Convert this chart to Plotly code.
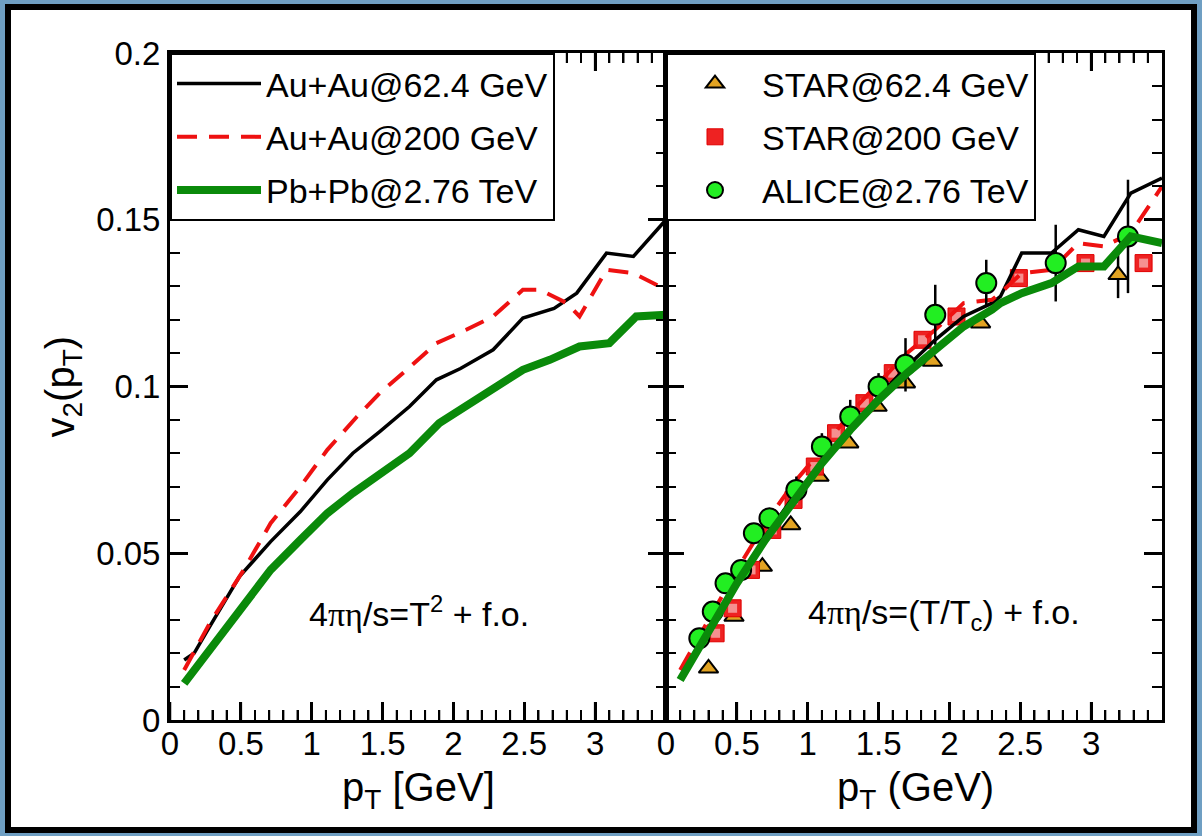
import plotly.graph_objects as go
from plotly.subplots import make_subplots

# ---------------- data ----------------
# left panel: 4*pi*eta/s = T^2 + f.o.
pt_l = [0.1, 0.17, 0.28, 0.49, 0.71, 0.92, 1.11, 1.29, 1.48, 1.69, 1.88, 2.05, 2.28, 2.49, 2.71, 2.87, 3.08, 3.27, 3.5]
auau62_l = [0.018, 0.020, 0.028, 0.043, 0.0535, 0.0625, 0.072, 0.080, 0.0865, 0.094, 0.102, 0.1054, 0.111, 0.1205, 0.1234, 0.128, 0.140, 0.139, 0.150]

pt_l_red = [0.1, 0.28, 0.52, 0.71, 0.92, 1.11, 1.32, 1.48, 1.67, 1.88, 2.09, 2.28, 2.49, 2.61, 2.80, 2.89, 3.08, 3.27, 3.5]
auau200_l = [0.015, 0.029, 0.045, 0.059, 0.070, 0.081, 0.091, 0.098, 0.105, 0.113, 0.117, 0.121, 0.129, 0.129, 0.125, 0.121, 0.135, 0.134, 0.129]

pt_l_grn = [0.1, 0.28, 0.49, 0.71, 0.92, 1.11, 1.29, 1.48, 1.69, 1.9, 2.09, 2.28, 2.49, 2.68, 2.89, 3.1, 3.29, 3.5]
pbpb_l = [0.011, 0.021, 0.033, 0.045, 0.054, 0.062, 0.068, 0.074, 0.080, 0.089, 0.094, 0.099, 0.105, 0.108, 0.112, 0.113, 0.121, 0.1215]

# right panel: 4*pi*eta/s = (T/Tc) + f.o.
pt_r = [0.1, 0.3, 0.5, 0.7, 0.9, 1.1, 1.3, 1.5, 1.7, 1.9, 2.1, 2.3, 2.36, 2.51, 2.72, 2.91, 3.09, 3.28, 3.5]
auau62_r = [0.013, 0.027, 0.041, 0.055, 0.067, 0.077, 0.087, 0.097, 0.106, 0.114, 0.121, 0.125, 0.127, 0.140, 0.140, 0.147, 0.145, 0.158, 0.1625]
auau200_r = [0.015, 0.030, 0.045, 0.059, 0.071, 0.081, 0.092, 0.101, 0.110, 0.117, 0.125, 0.126, 0.128, 0.134, 0.135, 0.143, 0.142, 0.146, 0.160]
pbpb_r = [0.012, 0.027, 0.041, 0.054, 0.066, 0.077, 0.087, 0.096, 0.104, 0.111, 0.118, 0.123, 0.125, 0.128, 0.131, 0.136, 0.136, 0.145, 0.143]

# data points
star62_pt = [0.3, 0.48, 0.68, 0.88, 1.08, 1.29, 1.49, 1.69, 1.88, 2.22, 3.19]
star62_v2 = [0.0155, 0.031, 0.046, 0.0585, 0.073, 0.083, 0.094, 0.101, 0.1075, 0.119, 0.1335]
star62_err = [0.0, 0.0, 0.0, 0.0, 0.0, 0.0, 0.0, 0.0, 0.0, 0.0, 0.007]

star200_pt = [0.35, 0.47, 0.6, 0.75, 0.9, 1.05, 1.2, 1.4, 1.6, 1.81, 2.05, 2.49, 2.96, 3.37]
star200_v2 = [0.026, 0.0335, 0.045, 0.057, 0.066, 0.076, 0.086, 0.095, 0.104, 0.114, 0.121, 0.1325, 0.137, 0.137]

alice_pt = [0.235, 0.33, 0.42, 0.53, 0.62, 0.73, 0.92, 1.1, 1.3, 1.5, 1.69, 1.9, 2.26, 2.75, 3.26]
alice_v2 = [0.0245, 0.0325, 0.041, 0.045, 0.056, 0.0605, 0.069, 0.082, 0.091, 0.100, 0.1065, 0.1215, 0.131, 0.137, 0.145]
alice_err = [0.001, 0.001, 0.0015, 0.0015, 0.002, 0.002, 0.004, 0.004, 0.005, 0.004, 0.008, 0.009, 0.007, 0.0115, 0.017]

x_ticks = [0, 0.5, 1, 1.5, 2, 2.5, 3]
x_labels = ["0", "0.5", "1", "1.5", "2", "2.5", "3"]
x_minor = [0.1, 0.2, 0.3, 0.4, 0.6, 0.7, 0.8, 0.9, 1.1, 1.2, 1.3, 1.4, 1.6, 1.7, 1.8, 1.9,
           2.1, 2.2, 2.3, 2.4, 2.6, 2.7, 2.8, 2.9, 3.1, 3.2, 3.3, 3.4]
y_ticks = [0, 0.05, 0.1, 0.15, 0.2]
y_labels = ["0", "0.05", "0.1", "0.15", "0.2"]

# ---------------- style ----------------
FONT = "Liberation Sans, Arial, Helvetica, sans-serif"
BLACK = "#000000"
RED = "#ee1111"
GREEN = "#0a8a0a"
ORANGE = "#e2a322"
LGREEN = "#22ee22"
FRAME_BLUE = "#6f9fc3"

W, H = 1202, 836
L, R, T, B = 170, 40, 53, 116
PLOT_H = H - T - B
MAJOR_LEN, MINOR_LEN = 18, 10

def px2x(px):
    return (px - L) / (W - L - R)

def py2y(py):
    return (H - B - py) / PLOT_H

fig = make_subplots(rows=1, cols=2, shared_yaxes=True, horizontal_spacing=0)

# experimental points (right panel)
fig.add_trace(go.Scatter(x=star62_pt, y=star62_v2, mode="markers", name="STAR@62.4 GeV",
                         error_y=dict(type="data", array=star62_err, color=BLACK, thickness=2.5, width=0),
                         marker=dict(symbol="triangle-up", size=17, color=ORANGE, line=dict(color=BLACK, width=2)),
                         legend="legend2", legendgroup="s62"), row=1, col=2)
fig.add_trace(go.Scatter(x=star200_pt, y=star200_v2, mode="markers", name="STAR@200 GeV",
                         marker=dict(symbol="square", size=17, color="#ee2222", line=dict(color="#e00000", width=1)),
                         legend="legend2", legendgroup="s200"), row=1, col=2)
fig.add_trace(go.Scatter(x=star200_pt, y=star200_v2, mode="markers", showlegend=False, hoverinfo="skip",
                         marker=dict(symbol="square", size=9, color="#f59090", line=dict(width=0)),
                         legend="legend2", legendgroup="s200"), row=1, col=2)

# hydro curves
for col, xs, ys in [(1, pt_l, auau62_l), (2, pt_r, auau62_r)]:
    fig.add_trace(go.Scatter(x=xs, y=ys, mode="lines", name="Au+Au@62.4 GeV",
                             line=dict(color=BLACK, width=3.5), legendgroup="a62",
                             showlegend=(col == 1), legend="legend"), row=1, col=col)
for col, xs, ys in [(1, pt_l_red, auau200_l), (2, pt_r, auau200_r)]:
    fig.add_trace(go.Scatter(x=xs, y=ys, mode="lines", name="Au+Au@200 GeV",
                             line=dict(color=RED, width=4, dash="20px,12px"), legendgroup="a200",
                             showlegend=(col == 1), legend="legend"), row=1, col=col)

fig.add_trace(go.Scatter(x=alice_pt, y=alice_v2, mode="markers", name="ALICE@2.76 TeV",
                         error_y=dict(type="data", array=alice_err, color=BLACK, thickness=2.5, width=0),
                         marker=dict(symbol="circle", size=20, color=LGREEN, line=dict(color=BLACK, width=2)),
                         legend="legend2", legendgroup="alice"), row=1, col=2)

for col, xs, ys in [(1, pt_l_grn, pbpb_l), (2, pt_r, pbpb_r)]:
    fig.add_trace(go.Scatter(x=xs, y=ys, mode="lines", name="Pb+Pb@2.76 TeV",
                             line=dict(color=GREEN, width=8), legendgroup="pb",
                             showlegend=(col == 1), legend="legend"), row=1, col=col)

# axes: inside ticks on all four sides, minor ticks in between
fig.update_xaxes(range=[0, 3.5], tickvals=x_ticks, ticktext=x_labels,
                 showline=True, linecolor=BLACK, linewidth=3, mirror="allticks",
                 ticks="inside", ticklen=MAJOR_LEN, tickwidth=2.5, tickcolor=BLACK,
                 minor=dict(tickvals=x_minor, ticks="inside", ticklen=MINOR_LEN, tickwidth=2, tickcolor=BLACK),
                 showgrid=False, zeroline=False, ticklabelstandoff=-8,
                 tickfont=dict(family=FONT, size=33, color=BLACK))
fig.update_yaxes(range=[0, 0.2], tickvals=y_ticks, ticktext=y_labels,
                 showline=True, linecolor=BLACK, linewidth=3, mirror="allticks",
                 ticks="inside", ticklen=MAJOR_LEN, tickwidth=2.5, tickcolor=BLACK,
                 minor=dict(dtick=0.01, tick0=0, ticks="inside", ticklen=MINOR_LEN, tickwidth=2, tickcolor=BLACK),
                 showgrid=False, zeroline=False, ticklabelstandoff=0,
                 tickfont=dict(family=FONT, size=33, color=BLACK))
fig.update_yaxes(showticklabels=False, row=1, col=2)

# x tick marks on bottom and top edges, placed on each panel's own x scale
# (the axis ticks alone did not come through in the render)
tick_marks = []
for xref, yref in [("x", "y domain"), ("x2", "y2 domain")]:
    for positions, length, width in [(x_ticks, MAJOR_LEN, 2.5), (x_minor, MINOR_LEN, 2)]:
        frac = length / PLOT_H
        for v in positions:
            for y0, y1 in [(0, frac), (1, 1 - frac)]:
                tick_marks.append(dict(type="line", xref=xref, yref=yref, layer="above",
                                       x0=v, x1=v, y0=y0, y1=y1,
                                       line=dict(color=BLACK, width=width)))

legend_common = dict(bgcolor="white", bordercolor=BLACK, borderwidth=2,
                     font=dict(family=FONT, size=34, color=BLACK),
                     tracegroupgap=6, itemwidth=84, yanchor="top", xanchor="left", y=1)

# slide frame: thin blue edge + black border, drawn as unfilled outlines
frame = [
    dict(type="rect", xref="paper", yref="paper", layer="above",
         x0=px2x(0), x1=px2x(W), y0=py2y(H), y1=py2y(0),
         fillcolor="rgba(0,0,0,0)", line=dict(color=FRAME_BLUE, width=10)),
    dict(type="rect", xref="paper", yref="paper", layer="above",
         x0=px2x(8), x1=px2x(1194), y0=py2y(830), y1=py2y(7),
         fillcolor="rgba(0,0,0,0)", line=dict(color=BLACK, width=6)),
]

fig.update_layout(
    width=W, height=H,
    margin=dict(l=L, r=R, t=T, b=B),
    paper_bgcolor="white",
    plot_bgcolor="white",
    font=dict(family=FONT, color=BLACK),
    legend=dict(x=0, **legend_common),
    legend2=dict(x=0.5, **legend_common),
    shapes=tick_marks + frame,
    annotations=[
        dict(xref="paper", yref="paper", x=px2x(62), y=0.5, textangle=-90,
             xanchor="center", yanchor="middle",
             text="v<sub>2</sub>(p<sub>T</sub>)", showarrow=False,
             font=dict(family=FONT, size=40, color=BLACK)),
        dict(xref="paper", yref="paper", x=px2x(418), y=py2y(790),
             xanchor="center", yanchor="middle",
             text="p<sub>T</sub> [GeV]", showarrow=False,
             font=dict(family=FONT, size=40, color=BLACK)),
        dict(xref="paper", yref="paper", x=px2x(915), y=py2y(790),
             xanchor="center", yanchor="middle",
             text="p<sub>T</sub> (GeV)", showarrow=False,
             font=dict(family=FONT, size=40, color=BLACK)),
        dict(xref="x", yref="y", x=1.76, y=0.0325, showarrow=False,
             xanchor="center", yanchor="middle",
             text="4<span style='font-family:Liberation Serif'>πη</span>/s=T<sup>2</sup> + f.o.",
             font=dict(family=FONT, size=34, color=BLACK)),
        dict(xref="x2", yref="y2", x=1.96, y=0.0315, showarrow=False,
             xanchor="center", yanchor="middle",
             text="4<span style='font-family:Liberation Serif'>πη</span>/s=(T/T<sub>c</sub>) + f.o.",
             font=dict(family=FONT, size=34, color=BLACK)),
    ],
)

# page body has a default margin; drop it so the figure sits at the window corner
fig.write_html("out.html", config={"displayModeBar": False},
               post_script="document.body.style.margin='0';document.body.style.background='%s';" % FRAME_BLUE)
